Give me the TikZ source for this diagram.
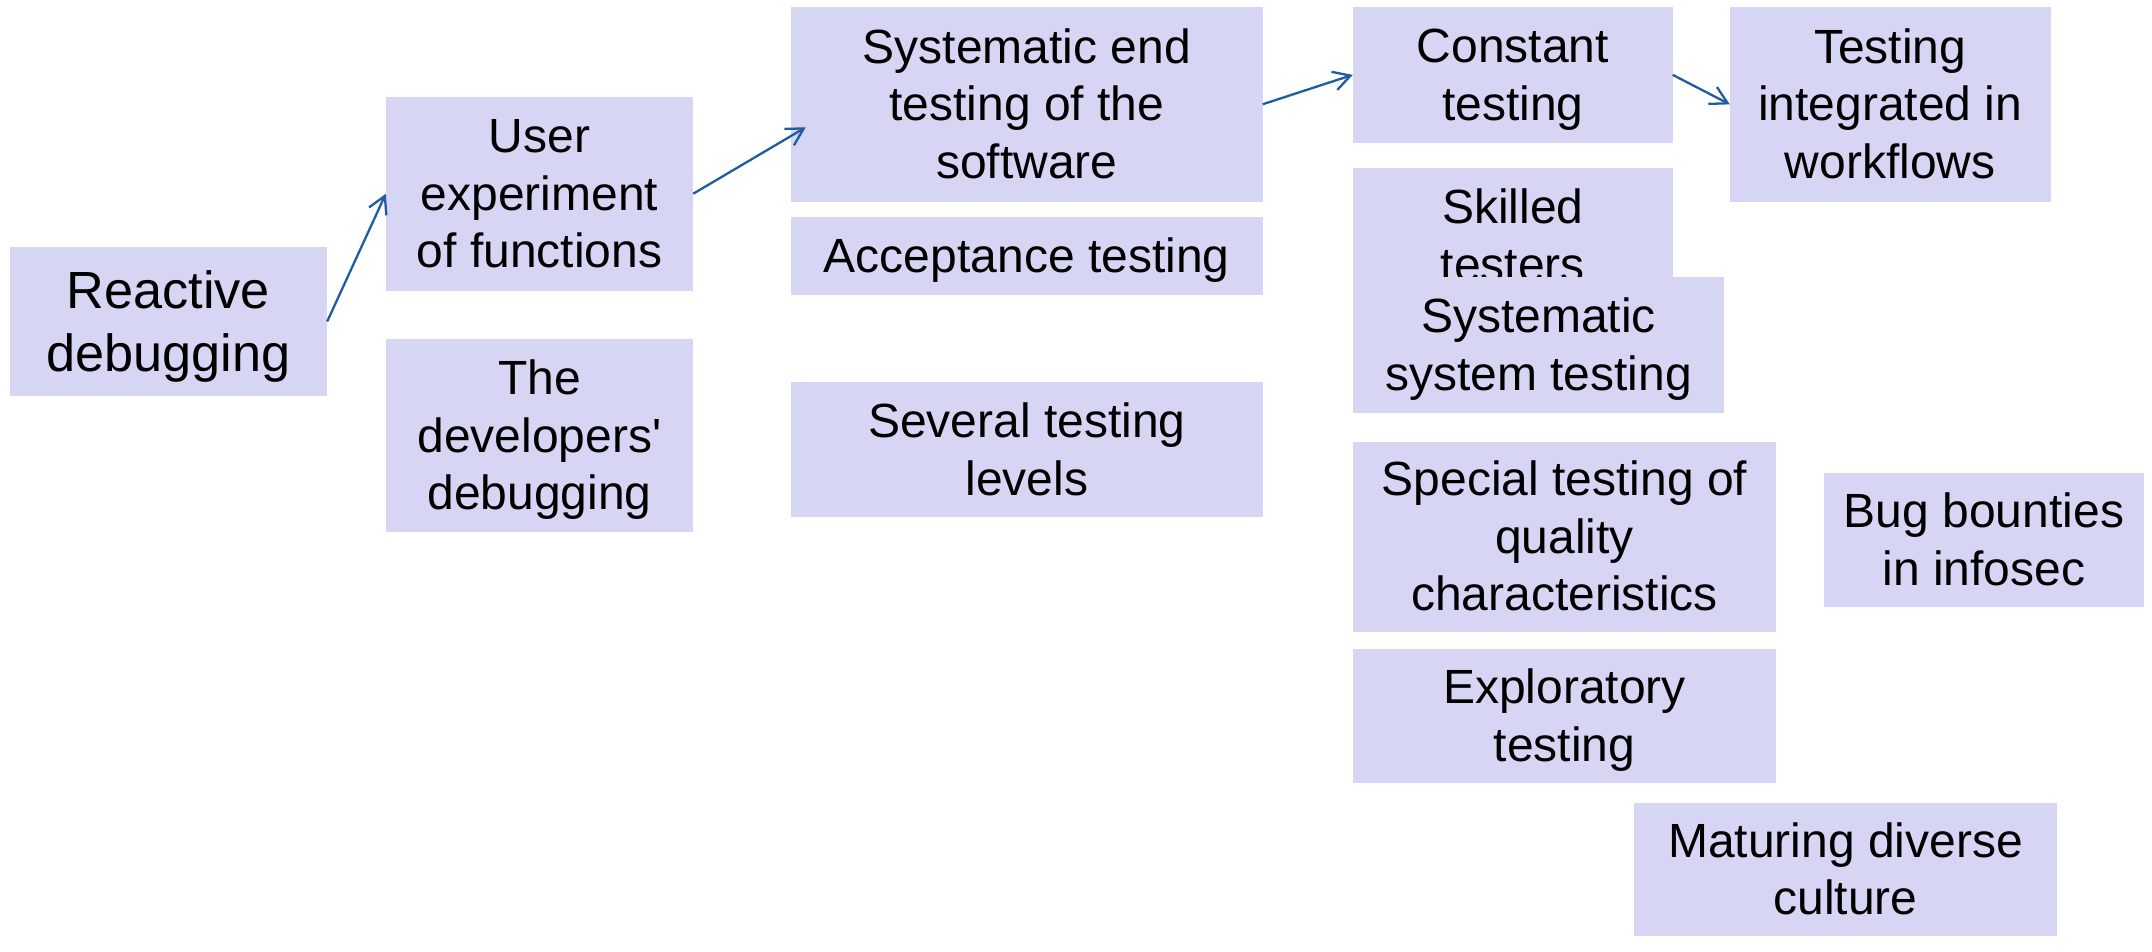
\documentclass[tikz,border=0pt]{standalone}
\usepackage{fontspec}
\setmainfont{Liberation Sans}
\usetikzlibrary{arrows.meta,calc}
\definecolor{boxfill}{RGB}{214,214,244}
\definecolor{arrowblue}{RGB}{31,92,160}

\begin{document}
\begin{tikzpicture}[x=1pt, y=-1pt,
		stage/.style={fill=boxfill, rectangle, inner sep=0pt, align=center, font=\fontsize{48}{57.5}\selectfont},
		oneline/.style={text height=40pt, text depth=6.8pt},
		twolines/.style={text height=100pt, text depth=9.3pt},
		threelines/.style={text height=160pt, text depth=11.8pt},
		flow/.style={draw=arrowblue, line width=2.3pt, -{Straight Barb[length=17pt, width=19pt, line width=2.3pt]}}]
				\useasboundingbox (0, 0) rectangle (2152, 951);
				\node[stage, minimum width=317.5pt, minimum height=149pt, font=\fontsize{52.3}{62.7}\selectfont, text height=108pt, text depth=9pt] (react)at(168.25, 321.5) {Reactive\\debugging};
				\node[stage, threelines, minimum width=307pt, minimum height=193.5pt] (user)at(539.5, 193.75) {User\\experiment\\of functions};
				\node[stage, threelines, minimum width=307pt, minimum height=193pt] (devdbg)at(539.5, 435.5) {The\\developers\textquotesingle\\debugging};
				\node[stage, threelines, minimum width=471.5pt, minimum height=194.5pt] (sysend)at(1026.75, 104.25) {Systematic end\\testing of the\\software};
				\node[stage, oneline, minimum width=471.5pt, minimum height=77.7pt] (accept)at(1026.75, 256) {Acceptance testing};
				\node[stage, twolines, minimum width=471.5pt, minimum height=135pt] (levels)at(1026.75, 449.8) {Several testing\\levels};
				\node[stage, twolines, minimum width=319.5pt, minimum height=135.7pt] (constant)at(1512.75, 74.85) {Constant\\testing};
				\node[stage, threelines, minimum width=320.5pt, minimum height=194.7pt] (integ)at(1890.25, 104.35) {Testing\\integrated in\\workflows};
				\node[stage, twolines, minimum width=319.5pt, minimum height=136pt] (skilled)at(1512.75, 236) {Skilled\\testers};
				\node[stage, twolines, minimum width=371pt, minimum height=135.7pt] (syssys)at(1538.5, 344.85) {Systematic\\system testing};
				\node[stage, threelines, minimum width=423pt, minimum height=190.3pt] (special)at(1564.5, 536.85) {Special testing of\\quality\\characteristics};
				\node[stage, twolines, minimum width=320pt, minimum height=133.7pt] (bounty)at(1984, 539.85) {Bug bounties\\in infosec};
				\node[stage, twolines, minimum width=423pt, minimum height=133.7pt] (explor)at(1564.5, 715.85) {Exploratory\\testing};
				\node[stage, twolines, minimum width=423pt, minimum height=133pt] (mature)at(1845.5, 869.5) {Maturing diverse\\culture};
				\draw[flow] (react.east) -- (user.west);
				\draw[flow] (user.east) -- ($(sysend.west)+(15, 23)$);
				\draw[flow] (sysend.east) -- (constant.west);
				\draw[flow] (constant.east) -- (integ.west);
			\end{tikzpicture}
\end{document}
